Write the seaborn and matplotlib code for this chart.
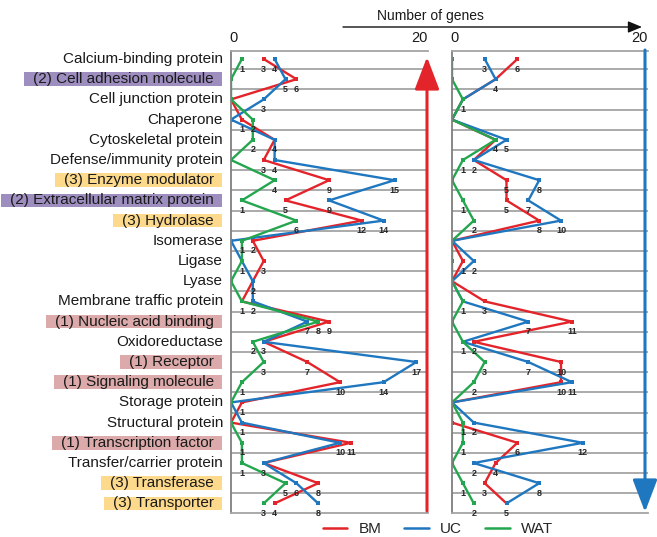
import numpy as np
import pandas as pd
import seaborn as sns
import matplotlib
matplotlib.use("Agg")
import matplotlib.pyplot as plt
from matplotlib.lines import Line2D
from matplotlib.patches import Rectangle
import matplotlib.transforms as mtrans

# ---------------- data ----------------
categories = [
    "Calcium-binding protein", "(2) Cell adhesion molecule", "Cell junction protein",
    "Chaperone", "Cytoskeletal protein", "Defense/immunity protein",
    "(3) Enzyme modulator", "(2) Extracellular matrix protein", "(3) Hydrolase",
    "Isomerase", "Ligase", "Lyase", "Membrane traffic protein",
    "(1) Nucleic acid binding", "Oxidoreductase", "(1) Receptor",
    "(1) Signaling molecule", "Storage protein", "Structural protein",
    "(1) Transcription factor", "Transfer/carrier protein", "(3) Transferase",
    "(3) Transporter",
]
# highlight group of each category label (None = plain)
label_groups = [None, 2, None, None, None, None, 3, 2, 3, None, None, None, None,
                1, None, 1, 1, None, None, 1, None, 3, 3]

series = ["BM", "UC", "WAT"]

left_BM = [3, 6, 0, 1, 4, 3, 9, 5, 12, 2, 3, 2, 1, 9, 3, 7, 10, 1, 0, 11, 3, 8, 4]
left_UC = [4, 5, 3, 0, 4, 4, 15, 9, 14, 0, 1, 2, 2, 7, 3, 17, 14, 0, 1, 10, 3, 6, 8]
left_WAT = [1, 0, 0, 2, 2, 0, 4, 1, 6, 1, 1, 0, 1, 8, 2, 3, 1, 0, 0, 1, 1, 5, 3]

right_BM = [6, 4, 1, 0, 4, 2, 5, 5, 8, 0, 1, 0, 3, 11, 2, 10, 10, 0, 0, 6, 4, 3, 5]
right_UC = [3, 4, 1, 0, 5, 2, 8, 7, 10, 0, 2, 0, 1, 7, 1, 7, 11, 0, 2, 12, 2, 8, 5]
right_WAT = [0, 0, 1, 0, 4, 1, 0, 1, 2, 0, 0, 0, 1, 0, 1, 3, 2, 0, 1, 1, 0, 1, 2]

axis_tick_labels = ["0", "20"]
axis_title = "Number of genes"

# ---------------- style ----------------
palette = {"BM": "#e3242b", "UC": "#1f77c0", "WAT": "#24a64f"}
group_colors = {1: "#dcaaaa", 2: "#9d8ebf", 3: "#fdd98c"}
grid_color = "#a4a4a4"

sns.set_theme(style="white")
plt.rcParams["font.family"] = ["Liberation Sans", "DejaVu Sans"]

W, H = 657, 537
fig = plt.figure(figsize=(W / 100, H / 100), dpi=100)


def rect(x0, x1, y0, y1):
    return [x0 / W, 1 - y1 / H, (x1 - x0) / W, (y1 - y0) / H]


UNIT = 10.9  # pixels per gene
ROW_TOP, ROW_BOT = 51, 513
ROW0, ROWSTEP = 59, 20.2

axL = fig.add_axes(rect(231, 428, ROW_TOP, ROW_BOT))
axR = fig.add_axes(rect(452, 648, ROW_TOP, ROW_BOT))

rows = np.arange(len(categories))
panels = [
    (axL, (left_BM, left_UC, left_WAT), 428 - 231),
    (axR, (right_BM, right_UC, right_WAT), 648 - 452),
]

for ax, vals, wpx in panels:
    df = pd.DataFrame({
        "row": np.tile(rows, 3),
        "count": np.concatenate([np.asarray(v) for v in vals]),
        "tissue": np.repeat(series, len(rows)),
    })
    sns.lineplot(data=df, x="count", y="row", hue="tissue", palette=palette,
                 hue_order=series, orient="y", estimator=None, sort=True,
                 marker="s", markersize=3.4, markeredgewidth=0,
                 linewidth=1.7, legend=False, ax=ax)
    ax.set_xlim(0, wpx / UNIT)
    y_top = -(ROW0 - ROW_TOP) / ROWSTEP
    y_bot = (ROW_BOT - ROW0) / ROWSTEP
    ax.set_ylim(y_bot, y_top)
    ax.set_xlabel("")
    ax.set_ylabel("")
    ax.set_xticks([])
    ax.set_yticks([])
    ax.hlines(np.arange(0.5, len(categories) - 1, 1), 0, wpx / UNIT,
              color=grid_color, lw=1.3, zorder=0.5)
    for s in ["top", "bottom"]:
        ax.spines[s].set_color(grid_color)
        ax.spines[s].set_linewidth(1.3)
    ax.spines["left"].set_color("#7f7f7f")
    ax.spines["left"].set_linewidth(1.3)
    ax.spines["right"].set_visible(False)
    # value labels under the points
    for i in rows:
        uniq = sorted({v[i] for v in vals if v[i] > 0})
        for u in uniq:
            ax.text(u, i + 0.5, str(u), ha="center", va="center", fontsize=6.5,
                    fontweight="bold", color="#262626", zorder=5)
    # top "0" and "20"
    ax.text(0.012, 1.012, axis_tick_labels[0], transform=ax.transAxes, ha="center",
            va="bottom", fontsize=10.5, color="#1a1a1a")
    ax.text(0.955, 1.012, axis_tick_labels[1], transform=ax.transAxes, ha="center",
            va="bottom", fontsize=10.5, color="#1a1a1a")

# category labels
blend = mtrans.blended_transform_factory(axL.transAxes, axL.transData)
label_texts = []
for i, (lab, g) in enumerate(zip(categories, label_groups)):
    shift = -8 if g is None else -17
    tr = blend + mtrans.ScaledTranslation(shift / 100, 0, fig.dpi_scale_trans)
    t = axL.text(0, i, lab, transform=tr, ha="right", va="center",
                 fontsize=11, color="#1a1a1a", zorder=5)
    label_texts.append((t, g, i))

fig.canvas.draw()
renderer = fig.canvas.get_renderer()
for t, g, i in label_texts:
    if g is None:
        continue
    ext = t.get_window_extent(renderer)
    yc = axL.transData.transform((0, i))[1]
    x0 = ext.x0 - 9
    x1 = 222
    r = Rectangle((x0 / W, (yc - 6.8) / H), (x1 - x0) / W, 13.6 / H,
                  transform=fig.transFigure, facecolor=group_colors[g],
                  edgecolor="none", zorder=-1)
    fig.add_artist(r)

# vertical arrows
fig.add_artist(matplotlib.patches.FancyArrowPatch(
    (427 / W, 1 - 511 / H), (427 / W, 1 - 57 / H), transform=fig.transFigure,
    arrowstyle="-|>,head_length=1.0,head_width=0.38", mutation_scale=20,
    color=palette["BM"], lw=2.2, shrinkA=0, shrinkB=0))
fig.add_artist(matplotlib.patches.FancyArrowPatch(
    (645 / W, 1 - 50 / H), (645 / W, 1 - 512 / H), transform=fig.transFigure,
    arrowstyle="-|>,head_length=1.0,head_width=0.38", mutation_scale=20,
    color=palette["UC"], lw=2.2, shrinkA=0, shrinkB=0))
# top horizontal arrow
fig.add_artist(matplotlib.patches.FancyArrowPatch(
    (343 / W, 1 - 27 / H), (642 / W, 1 - 27 / H), transform=fig.transFigure,
    arrowstyle="-|>,head_length=0.6,head_width=0.25", mutation_scale=14,
    color="#111111", lw=1.0, shrinkA=0, shrinkB=0))
fig.text(430 / W, 1 - 16 / H, axis_title, ha="center", va="center", fontsize=10,
         color="#1a1a1a")

# legend
handles = [Line2D([0], [0], color=palette[s], lw=1.8) for s in series]
fig.legend(handles, series, loc="center", bbox_to_anchor=(438 / W, 1 - 529 / H),
           ncol=3, frameon=False, fontsize=11, handlelength=1.6,
           handletextpad=0.75, columnspacing=1.5, borderaxespad=0, borderpad=0)

fig.savefig("out.png", dpi=100)
